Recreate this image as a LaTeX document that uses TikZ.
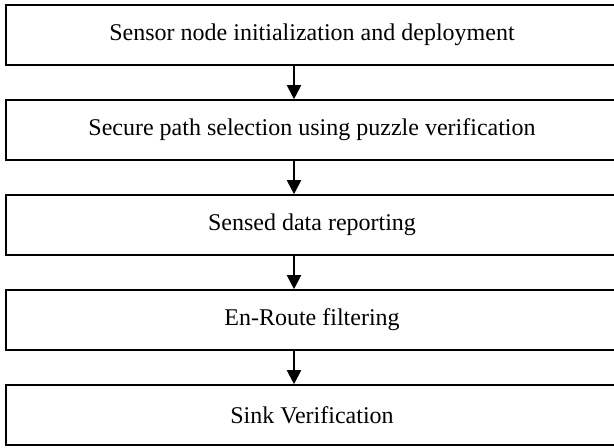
\documentclass[tikz,border=0pt]{standalone}
\usepackage{fontspec}
\setmainfont{Liberation Serif}
\usetikzlibrary{arrows.meta}

\tikzset{
    stage/.style={draw, line width=0.8pt, rectangle, minimum width=306pt, minimum height=30pt, inner sep=0pt, font=\fontsize{12pt}{14pt}\selectfont},
    flow/.style={line width=1pt, -{Triangle[width=7pt, length=7pt]}}
}

\begin{document}
\begin{tikzpicture}[x=0.5pt, y=-0.5pt]
    \useasboundingbox (0, 0) rectangle (614, 448);

    \node[stage] at (312, 35) (init) {Sensor node initialization and deployment};
    \node[stage] at (312, 130) (path) {Secure path selection using puzzle verification};
    \node[stage] at (312, 225) (report) {Sensed data reporting};
    \node[stage] at (312, 320) (filter) {En-Route filtering};
    \node[stage] at (312, 415) (sink) {Sink Verification};

    \coordinate (axis) at (294, 0);

    \draw[flow] (init.south -| axis) -- (path.north -| axis);
    \draw[flow] (path.south -| axis) -- (report.north -| axis);
    \draw[flow] (report.south -| axis) -- (filter.north -| axis);
    \draw[flow] (filter.south -| axis) -- (sink.north -| axis);
\end{tikzpicture}
\end{document}
